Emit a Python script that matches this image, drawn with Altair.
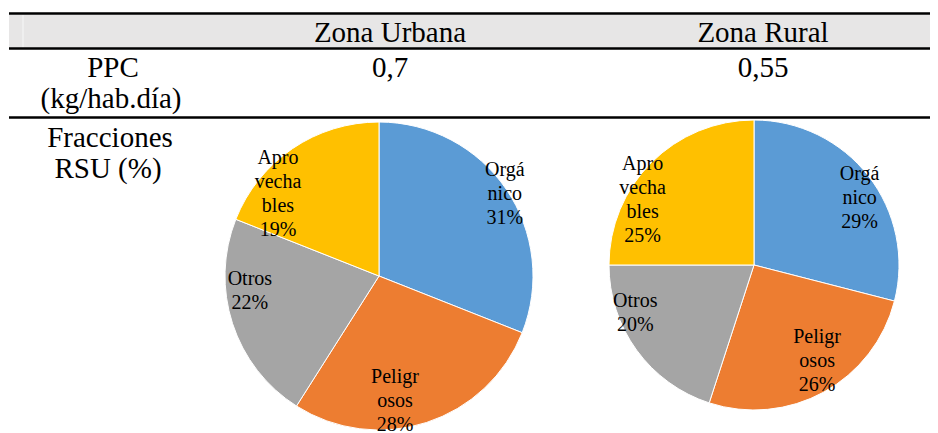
import altair as alt
import pandas as pd

# ---------------- data ----------------
zones = ["Zona Urbana", "Zona Rural"]
ppc_values = ["0,7", "0,55"]
row_line1 = ["PPC", "Fracciones"]
row_line2 = ["(kg/hab.día)", "RSU (%)"]
categories = ["Orgánico", "Peligrosos", "Otros", "Aprovechables"]
label_text = ["Orgá\nnico", "Peligr\nosos", "Otros", "Apro\nvecha\nbles"]
urban_pct = [31, 28, 22, 19]
rural_pct = [29, 26, 20, 25]

# ---------------- style / layout ----------------
colors = ["#5B9BD5", "#ED7D31", "#A5A5A5", "#FFC000"]
FONT = "Liberation Serif"
W, H = 922, 425
col_x = [382, 755]           # centres of the two value columns
row_x1 = [105, 102]          # centres of first line of row headers
row_x2 = [103, 100]
LH = 24                      # pie label line height
urban_geo = dict(cx=371, cy=268, r=154,
                 dang=[1.2, 10.7, 11.4, -16.8], lr=[150, 126, 130, 130])
rural_geo = dict(cx=746, cy=257, r=145,
                 dang=[5.5, -4.5, 14.0, -14.7], lr=[125, 115, 128, 129])


def hrule(y, w=2.5):
    return alt.Chart(pd.DataFrame({"a": [0]})).mark_rule(
        color="black", strokeWidth=w).encode(
        x=alt.value(1), x2=alt.value(W), y=alt.value(y))


header_bg = alt.Chart(pd.DataFrame({"a": [0]})).mark_rect(
    color="#E7E6E6").encode(
    x=alt.value(1), x2=alt.value(W), y=alt.value(6.5), y2=alt.value(40))
header_sep = alt.Chart(pd.DataFrame({"a": [0]})).mark_rule(
    color="white", strokeWidth=1, opacity=0.7).encode(
    x=alt.value(15), y=alt.value(6.5), y2=alt.value(40))

hdr_df = pd.DataFrame({"zone": zones, "ppc": ppc_values, "xp": col_x})
txt_kw = dict(font=FONT, fontSize=29, color="black", align="center",
              baseline="alphabetic")
hdr_text = alt.Chart(hdr_df).mark_text(**txt_kw).encode(
    x=alt.X("xp:Q", scale=None, axis=None), y=alt.value(33.5), text="zone:N")
ppc_text = alt.Chart(hdr_df).mark_text(**txt_kw).encode(
    x=alt.X("xp:Q", scale=None, axis=None), y=alt.value(69), text="ppc:N")

row_df = pd.DataFrame({"l1": row_line1, "l2": row_line2,
                       "x1": row_x1, "x2": row_x2,
                       "y1": [69, 139], "y2": [100, 170]})
row_t1 = alt.Chart(row_df).mark_text(**txt_kw).encode(
    x=alt.X("x1:Q", scale=None, axis=None),
    y=alt.Y("y1:Q", scale=None, axis=None), text="l1:N")
row_t2 = alt.Chart(row_df).mark_text(**txt_kw).encode(
    x=alt.X("x2:Q", scale=None, axis=None),
    y=alt.Y("y2:Q", scale=None, axis=None), text="l2:N")


def pie(values, geo):
    df = pd.DataFrame({"cat": categories, "pct": values,
                       "idx": list(range(len(values))),
                       "lab": label_text, "dang": geo["dang"], "lr": geo["lr"]})
    base = alt.Chart(df)
    arc = base.mark_arc(stroke="white", strokeWidth=1).encode(
        theta=alt.Theta("pct:Q", stack=True),
        order=alt.Order("idx:Q"),
        color=alt.Color("cat:N", legend=None,
                        scale=alt.Scale(domain=categories, range=colors)),
        x=alt.value(geo["cx"]), y=alt.value(geo["cy"]),
        radius=alt.value(geo["r"]))
    lab = base.transform_window(
        cum="sum(pct)", sort=[alt.SortField("idx")], frame=[None, 0]
    ).transform_joinaggregate(total="sum(pct)").transform_calculate(
        ang="(datum.cum - datum.pct/2)/datum.total*2*PI + datum.dang*PI/180",
        txt="datum.lab + '\\n' + datum.pct + '%'",
    ).transform_calculate(
        nl="length(split(datum.txt, '\\n'))",
    ).transform_calculate(
        px=f"{geo['cx']} + datum.lr*sin(datum.ang)",
        py=f"{geo['cy']} - datum.lr*cos(datum.ang) - (datum.nl - 1)*{LH}/2",
    ).mark_text(font=FONT, fontSize=20, lineHeight=LH, lineBreak="\n",
                align="center", baseline="middle", color="black").encode(
        x=alt.X("px:Q", scale=None, axis=None),
        y=alt.Y("py:Q", scale=None, axis=None),
        text="txt:N")
    return arc + lab


chart = alt.layer(
    header_bg, header_sep,
    hrule(5.5), hrule(40.5), hrule(109.5),
    hdr_text, ppc_text, row_t1, row_t2,
    pie(urban_pct, urban_geo), pie(rural_pct, rural_geo),
).properties(width=W, height=H, padding=0, autosize="none",
             background="white").configure_view(stroke=None)

chart.save("out.html", embed_options={"renderer": "svg", "actions": False})
